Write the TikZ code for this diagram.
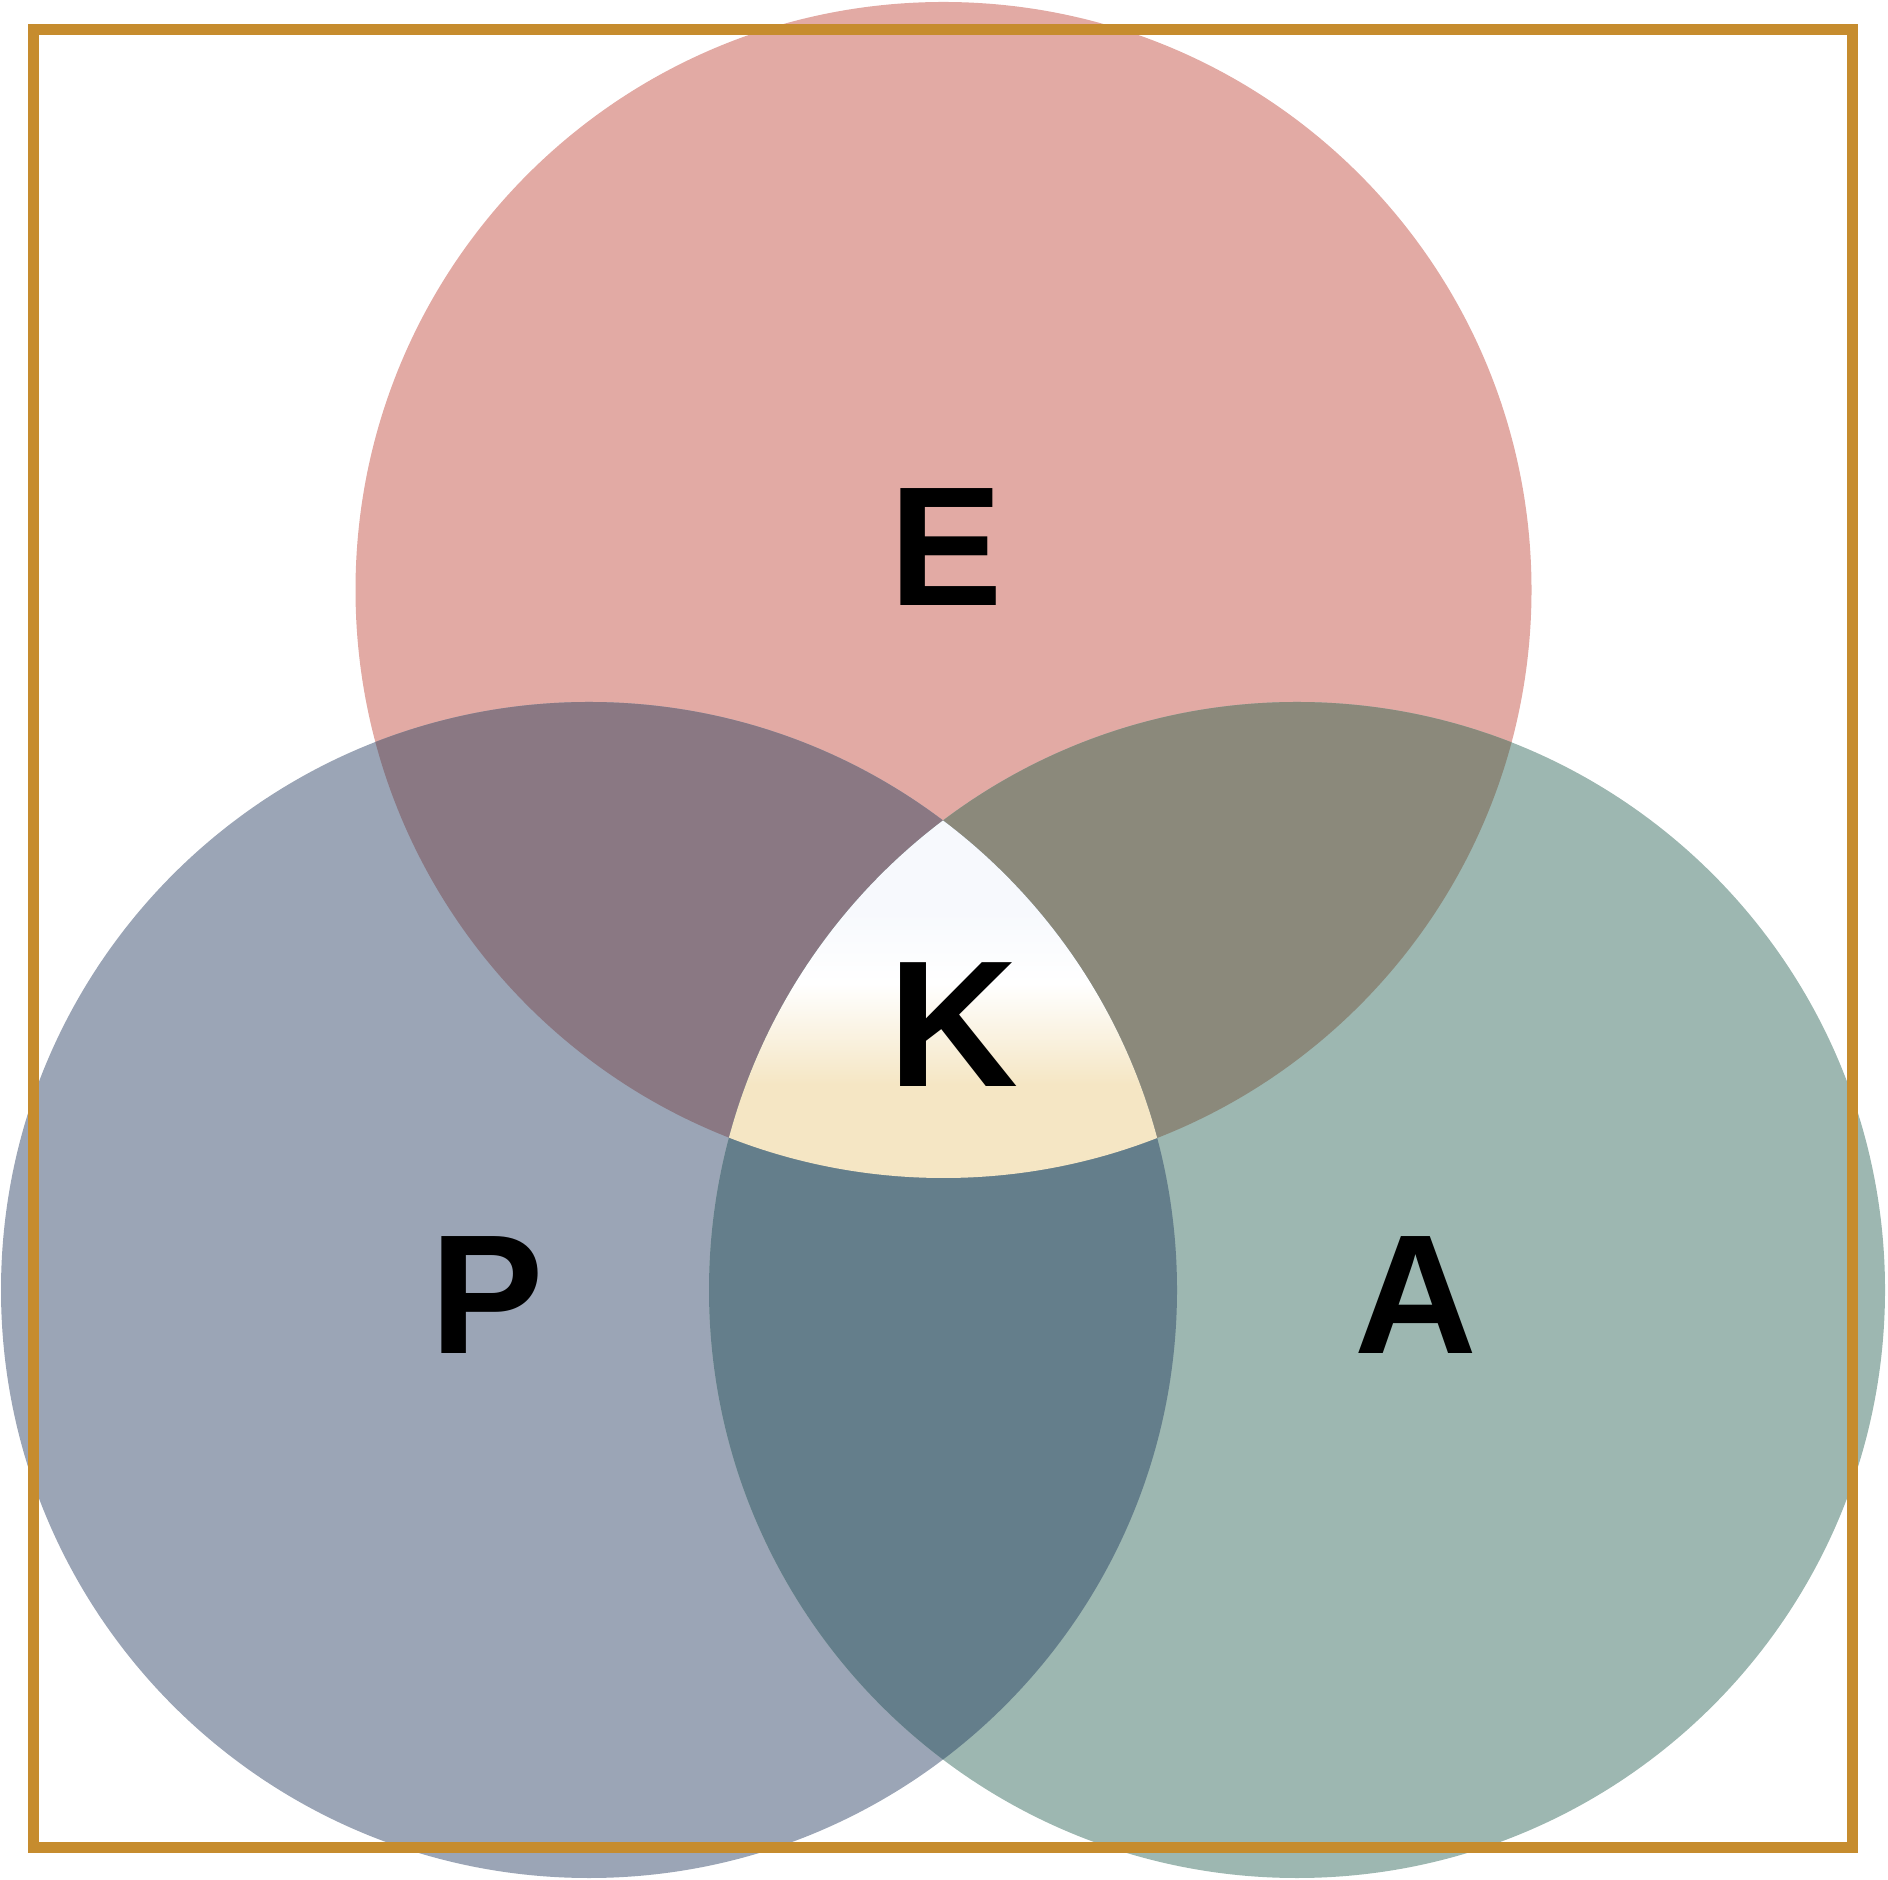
\documentclass[tikz,border=0pt]{standalone}
\usepackage{fontspec}
\setmainfont{Liberation Sans}
\usetikzlibrary{positioning}
\definecolor{colE}{RGB}{226,170,164}
\definecolor{colP}{RGB}{155,165,182}
\definecolor{colA}{RGB}{157,183,177}
\definecolor{colEP}{RGB}{138,120,131}
\definecolor{colEA}{RGB}{139,137,123}
\definecolor{colPA}{RGB}{100,126,139}
\definecolor{colKlow}{RGB}{245,230,196}
\definecolor{colKtop}{RGB}{247,249,253}
\definecolor{frameCol}{RGB}{198,140,46}
\pgfdeclareverticalshading{kshade}{100bp}{color(0bp)=(colKlow); color(38bp)=(colKlow);
    color(52bp)=(white); color(62bp)=(colKtop); color(100bp)=(colKtop)}
\tikzset{
    letter/.style = {anchor=base, inner sep=0pt, font=\bfseries\fontsize{85pt}{93pt}\selectfont},
}

\begin{document}
\begin{tikzpicture}[x=0.5pt, y=0.5pt]
            \useasboundingbox (0,0) rectangle (1888,1879);
            \def\rad{588}
            \coordinate (cE) at (943.5,1289);
            \coordinate (cP) at (589,589);
            \coordinate (cA) at (1297,589);
            % the three sets
            \fill[colE] (cE) circle (\rad);
            \fill[colP] (cP) circle (\rad);
            \fill[colA] (cA) circle (\rad);
            % pairwise overlaps
            \begin{scope}
                \clip (cE) circle (\rad);
                \fill[colEP] (cP) circle (\rad);
                \fill[colEA] (cA) circle (\rad);
            \end{scope}
            \begin{scope}
                \clip (cP) circle (\rad);
                \fill[colPA] (cA) circle (\rad);
            \end{scope}
            % the middle
            \begin{scope}
                \clip (cE) circle (\rad);
                \clip (cP) circle (\rad);
                \clip (cA) circle (\rad);
                \shade[shading=kshade] (700,701) rectangle (1190,1061);
            \end{scope}
            \draw[frameCol, line width=5.5pt] (33.5,31.7) rectangle (1852.5,1849.7);

            \node[letter] (labE) at (946,1273) {E};
            \node[letter, font=\bfseries\fontsize{90pt}{98pt}\selectfont] (labK) at (953,792) {K};
            \node[letter] (labP) at (487,525) {P};
            \node[letter] (labA) at (1416,525) {A};
\end{tikzpicture}
\end{document}
